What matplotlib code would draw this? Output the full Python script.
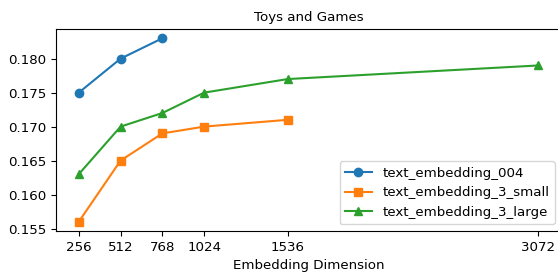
import matplotlib
matplotlib.use("Agg")
import matplotlib.pyplot as plt

dims_004 = [256, 512, 768]
vals_004 = [0.175, 0.180, 0.183]

dims_small = [256, 512, 768, 1024, 1536]
vals_small = [0.156, 0.165, 0.169, 0.170, 0.171]

dims_large = [256, 512, 768, 1024, 1536, 3072]
vals_large = [0.163, 0.170, 0.172, 0.175, 0.177, 0.179]

xticks = [256, 512, 768, 1024, 1536, 3072]

plt.rcParams['font.size'] = 9.6

fig, ax = plt.subplots(figsize=(5.58, 2.72), dpi=100)
ax.plot(dims_004, vals_004, marker='o', label='text_embedding_004')
ax.plot(dims_small, vals_small, marker='s', label='text_embedding_3_small')
ax.plot(dims_large, vals_large, marker='^', label='text_embedding_3_large')

ax.set_xticks(xticks)
ax.set_xlabel('Embedding Dimension')
ax.set_title('Toys and Games', fontsize=9.6)
ax.legend(loc='lower right')

# the right edge of the axes falls just outside the figure, as in the original
fig.subplots_adjust(left=0.1, right=1.006, top=0.893, bottom=0.151)
fig.savefig('out.png')
